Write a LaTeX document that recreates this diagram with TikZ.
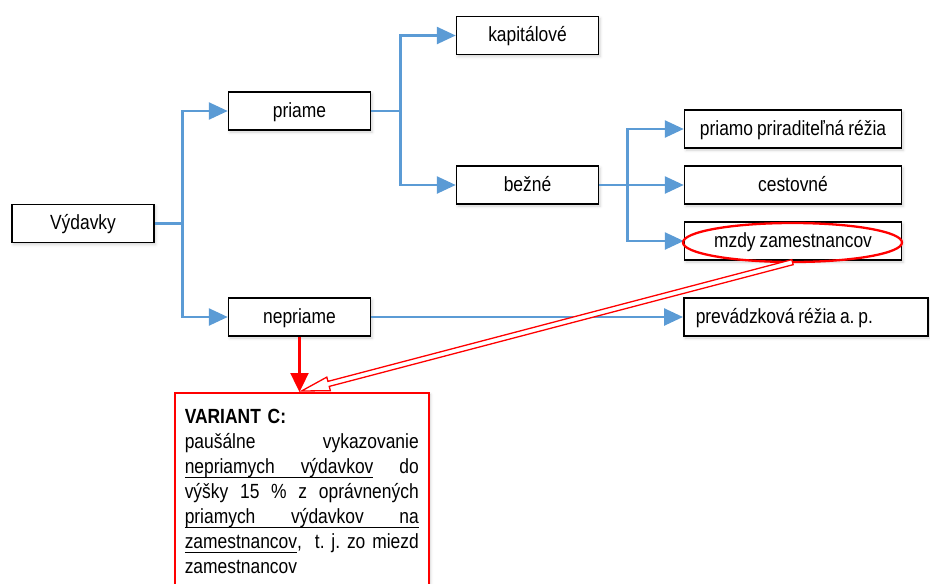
\documentclass[tikz,border=0pt]{standalone}
\usepackage{fontspec}
\setmainfont{Liberation Sans}[FakeStretch=0.85,WordSpace=0.8]
\usetikzlibrary{arrows.meta,shapes.geometric,calc,shadows.blur}
\frenchspacing

\definecolor{linkblue}{RGB}{91,155,213}
\definecolor{markred}{RGB}{255,0,0}

% underlined word and underlined stretchable gap
\newcommand\ulword[1]{{\setbox0=\hbox{#1}\rlap{\vrule width\wd0 height -3pt depth 4.2pt}\box0}}
\newcommand\ulgap{\leaders\hrule height -3pt depth 4.2pt\hfill}

\begin{document}
\begin{tikzpicture}[x=1pt,y=-1pt,
  box/.style={draw=black, line width=1.5pt, fill=white,
    minimum width=142pt, minimum height=38pt, inner sep=0pt,
    text height=15pt, text depth=3pt,
    font=\fontsize{20.5}{24}\selectfont,
    blur shadow={shadow xshift=1.5pt, shadow yshift=-2pt,
      shadow blur radius=3pt, shadow opacity=18}},
  widebox/.style={box, minimum width=217pt},
  link/.style={draw=linkblue, line width=2.6pt},
  linkto/.style={link, -{Triangle[length=19pt,width=17pt]}},
]
\useasboundingbox (0,0) rectangle (930,584);
\clip (0,0) rectangle (930,584);

% boxes
\node[box] (vyd) at (83,223.5) {Výdavky};
\node[box] (pri) at (299.5,111) {priame};
\node[box] (nep) at (299.5,317) {nepriame};
\node[box] (kap) at (527.5,35.5) {kapitálové};
\node[box] (bez) at (527.5,185) {bežné};
\node[widebox] (ppr) at (793,129) {priamo priraditeľná réžia};
\node[widebox] (ces) at (793,185) {cestovné};
\node[widebox] (mzd) at (793,241) {mzdy zamestnancov};
\node[box, minimum width=244pt, anchor=west] (prev) at (683,317)
  {\makebox[220pt][l]{prevádzková réžia a. p.}};

% junction points of the tree
\coordinate (j1) at ($(vyd.east)+(28,0)$);
\coordinate (j2) at ($(pri.east)+(29,0)$);
\coordinate (j3) at ($(bez.east)+(28,0)$);

% blue connectors
\draw[link] (vyd.east) -- (j1);
\draw[linkto] (j1) |- (pri.west);
\draw[linkto] (j1) |- (nep.west);
\draw[link] (pri.east) -- (j2);
\draw[linkto] (j2) |- (kap.west);
\draw[linkto] (j2) |- (bez.west);
\draw[link] (bez.east) -- (j3);
\draw[linkto] (j3) |- (ppr.west);
\draw[linkto] (j3) |- (ces.west);
\draw[linkto] (j3) |- (mzd.west);
\draw[linkto] (nep.east) -- (prev.west);

% highlight of the wages box
\node[draw=markred, line width=2.3pt, ellipse, minimum width=219pt,
      minimum height=39pt, inner sep=0pt] (oval) at (792.5,242.5) {};

% note box
\node[draw=markred, line width=1.5pt, fill=white, anchor=north west,
      inner xsep=10pt, inner ysep=16.5pt, text width=234pt, align=left,
      font={\fontsize{20.5}{25}\selectfont},
      blur shadow={shadow xshift=1.5pt, shadow yshift=-2pt,
      shadow blur radius=3pt, shadow opacity=18}] (varc) at (174,392)
{\textbf{VARIANT C:}\\
\makebox[\linewidth][s]{paušálne\hfill vykazovanie}\\
\makebox[\linewidth][s]{\ulword{nepriamych}\ulgap\ulword{výdavkov}\hfill do}\\
\makebox[\linewidth][s]{výšky\hfill 15\hfill \%\hfill z\hfill oprávnených}\\
\makebox[\linewidth][s]{\ulword{priamych}\ulgap\ulword{výdavkov}\ulgap\ulword{na}}\\
\makebox[\linewidth][s]{\ulword{zamestnancov},\hfill t. j. zo miezd}\\
zamestnancov};

% red arrow from the indirect costs to the note
\coordinate (rtip) at (nep.south |- varc.north);
\draw[draw=markred, line width=2.4pt, -{Triangle[length=19pt,width=18pt]}]
  (nep.south) -- (rtip);

% hollow arrow from the highlighted wages to the note
\coordinate (hA) at ($(oval.south)+(0,-1)$);
\coordinate (hB) at ($(rtip)+(2,-1)$);
\coordinate (hH) at ($(hB)!28pt!(hA)$);
\filldraw[draw=markred, fill=white, line width=1.3pt, line join=miter]
  ($(hA)!2.6pt!90:(hB)$) -- ($(hH)!2.6pt!90:(hB)$) -- ($(hH)!7pt!90:(hB)$)
  -- (hB) -- ($(hH)!7pt!-90:(hB)$) -- ($(hH)!2.6pt!-90:(hB)$)
  -- ($(hA)!2.6pt!-90:(hB)$) -- cycle;
\end{tikzpicture}
\end{document}
